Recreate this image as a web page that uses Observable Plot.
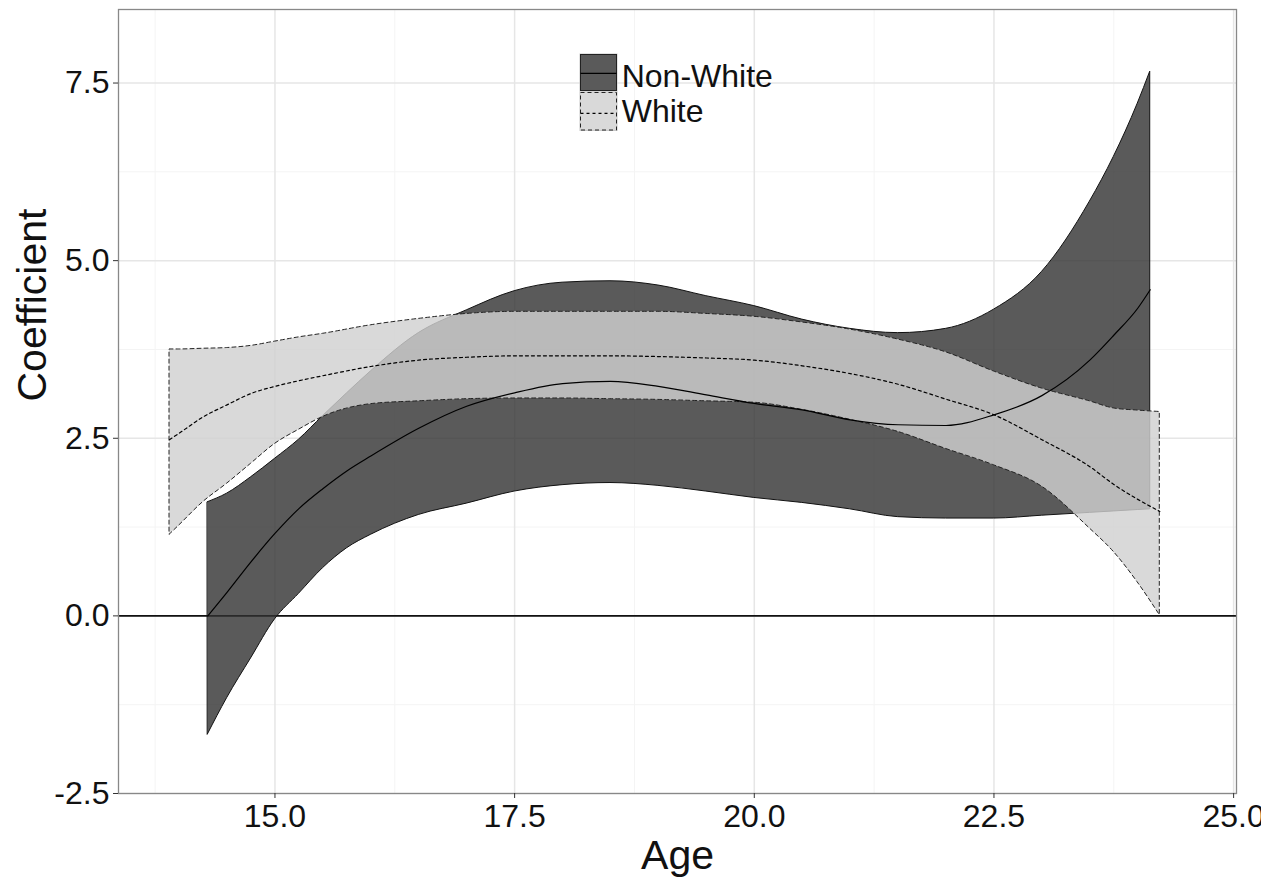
<!DOCTYPE html>
<html>
<head>
<meta charset="utf-8">
<script src="https://cdn.jsdelivr.net/npm/d3@7"></script>
<script src="https://cdn.jsdelivr.net/npm/@observablehq/plot@0.6"></script>
<style>
  html, body { margin: 0; padding: 0; background: #fff; }
  #wrap { position: relative; width: 1261px; height: 880px; overflow: hidden; font-family: "Liberation Sans", Arial, sans-serif; }
  #legend { position: absolute; left: 575px; top: 50px; }
</style>
</head>
<body>
<div id="wrap">
  <div id="chart"></div>
  <svg id="legend" width="220" height="86"></svg>
</div>
<script>
// ---- Data ----
const nwAge   = [14.30, 14.5, 14.75, 15.0, 15.25, 15.5, 15.75, 16.0, 16.5, 17.0, 17.5, 18.0, 18.5, 19.0, 19.5, 20.0, 20.5, 21.0, 21.5, 22.0, 22.5, 23.0, 23.5, 23.75, 24.0, 24.13];
const nwLower = [-1.67, -1.16, -0.60, -0.05, 0.31, 0.67, 0.95, 1.14, 1.42, 1.58, 1.75, 1.84, 1.87, 1.83, 1.75, 1.66, 1.59, 1.50, 1.39, 1.37, 1.37, 1.41, 1.45, 1.47, 1.49, 1.50];
const nwFit   = [0.00, 0.33, 0.76, 1.16, 1.51, 1.79, 2.04, 2.25, 2.64, 2.95, 3.14, 3.27, 3.30, 3.23, 3.11, 2.99, 2.90, 2.76, 2.69, 2.68, 2.83, 3.10, 3.60, 3.95, 4.33, 4.59];
const nwUpper = [1.60, 1.72, 1.95, 2.21, 2.48, 2.81, 3.13, 3.44, 3.98, 4.30, 4.57, 4.69, 4.71, 4.65, 4.50, 4.36, 4.17, 4.04, 3.98, 4.04, 4.31, 4.84, 5.83, 6.46, 7.21, 7.66];

const wAge    = [13.90, 14.0, 14.25, 14.5, 14.75, 15.0, 15.25, 15.5, 16.0, 16.5, 17.0, 17.5, 18.0, 18.5, 19.0, 19.5, 20.0, 20.5, 21.0, 21.5, 22.0, 22.5, 23.0, 23.5, 23.75, 24.0, 24.23];
const wLower  = [1.14, 1.27, 1.60, 1.86, 2.14, 2.42, 2.62, 2.80, 2.98, 3.02, 3.05, 3.06, 3.06, 3.05, 3.04, 3.02, 3.00, 2.90, 2.76, 2.59, 2.35, 2.12, 1.82, 1.23, 0.90, 0.47, 0.01];
const wFit    = [2.48, 2.57, 2.80, 2.97, 3.13, 3.23, 3.31, 3.38, 3.51, 3.60, 3.64, 3.66, 3.66, 3.66, 3.65, 3.63, 3.60, 3.52, 3.41, 3.26, 3.05, 2.83, 2.48, 2.10, 1.85, 1.64, 1.47];
const wUpper  = [3.75, 3.75, 3.76, 3.77, 3.80, 3.86, 3.92, 3.97, 4.09, 4.18, 4.25, 4.28, 4.28, 4.28, 4.28, 4.25, 4.21, 4.13, 4.03, 3.89, 3.71, 3.44, 3.20, 3.02, 2.92, 2.89, 2.87];

const xTicks  = [15, 17.5, 20, 22.5, 25];
const xMinor  = [13.75, 16.25, 18.75, 21.25, 23.75];
const yTicks  = [-2.5, 0, 2.5, 5, 7.5];
const yMinor  = [-1.25, 1.25, 3.75, 6.25];
const seriesNames = ["Non-White", "White"];
const xTitle = "Age";
const yTitle = "Coefficient";

const nw = nwAge.map((a, i) => ({age: a, lo: nwLower[i], fit: nwFit[i], hi: nwUpper[i]}));
const wh = wAge.map((a, i) => ({age: a, lo: wLower[i], fit: wFit[i], hi: wUpper[i]}));

const font = "Liberation Sans, Arial, sans-serif";

const chart = Plot.plot({
  width: 1261,
  height: 880,
  marginLeft: 118,
  marginRight: 25,
  marginTop: 9,
  marginBottom: 87,
  style: {fontFamily: font, background: "transparent", overflow: "visible"},
  x: {domain: [13.368, 25.03]},
  y: {domain: [-2.5, 8.535]},
  marks: [
    Plot.ruleX(xMinor, {stroke: "#f4f4f4", strokeWidth: 1}),
    Plot.ruleY(yMinor, {stroke: "#f4f4f4", strokeWidth: 1}),
    Plot.ruleX(xTicks, {stroke: "#e6e6e6", strokeWidth: 1.5}),
    Plot.ruleY(yTicks, {stroke: "#e6e6e6", strokeWidth: 1.5}),
    Plot.ruleY([0], {stroke: "#111", strokeWidth: 1.6}),
    Plot.areaY(nw, {x: "age", y1: "lo", y2: "hi", fill: "#313131", fillOpacity: 0.8, stroke: "#111", strokeWidth: 1, curve: "monotone-x"}),
    Plot.areaY(wh, {x: "age", y1: "lo", y2: "hi", fill: "#d0d0d0", fillOpacity: 0.81, stroke: "#222", strokeWidth: 1, strokeDasharray: "4,3", curve: "monotone-x"}),
    Plot.lineY(nw, {x: "age", y: "fit", stroke: "#000", strokeWidth: 1.2, curve: "monotone-x"}),
    Plot.lineY(wh, {x: "age", y: "fit", stroke: "#000", strokeWidth: 1.2, strokeDasharray: "3,3", curve: "monotone-x"}),
    Plot.frame({stroke: "#888", strokeWidth: 1.3}),
    Plot.axisX(xTicks, {tickFormat: d => d.toFixed(1), fontSize: 32, tickSize: 5, tickPadding: 6, stroke: "#333", fill: "#111", label: null}),
    Plot.axisY(yTicks, {tickFormat: d => d.toFixed(1), fontSize: 32, tickSize: 5, tickPadding: 4, stroke: "#333", fill: "#111", label: null}),
    Plot.text([xTitle], {frameAnchor: "bottom", lineAnchor: "top", dy: 46, fontSize: 41, fill: "#111"}),
    Plot.text([yTitle], {frameAnchor: "left", lineAnchor: "middle", rotate: -90, dx: -86, fontSize: 41, fill: "#111"})
  ]
});
document.getElementById("chart").appendChild(chart);

// ---- Legend (inside panel, top centre) ----
const lg = d3.select("#legend");
// Non-White key
lg.append("rect").attr("x", 4.5).attr("y", 3.5).attr("width", 38).attr("height", 38).attr("fill", "#c8c8c8");
lg.append("rect").attr("x", 5.5).attr("y", 4.5).attr("width", 36).attr("height", 36).attr("fill", "#5a5a5a").attr("stroke", "#222").attr("stroke-width", 1);
lg.append("line").attr("x1", 5.5).attr("x2", 41.5).attr("y1", 23.3).attr("y2", 23.3).attr("stroke", "#000").attr("stroke-width", 1.2);
// White key
lg.append("rect").attr("x", 4.5).attr("y", 41.5).attr("width", 38).attr("height", 39.5).attr("fill", "#c8c8c8");
lg.append("rect").attr("x", 5.5).attr("y", 42.5).attr("width", 36).attr("height", 37.5).attr("fill", "#d9d9d9").attr("stroke", "#222").attr("stroke-width", 1).attr("stroke-dasharray", "4,3");
lg.append("line").attr("x1", 5.5).attr("x2", 41.5).attr("y1", 63.3).attr("y2", 63.3).attr("stroke", "#000").attr("stroke-width", 1.2).attr("stroke-dasharray", "3,3");
lg.append("text").attr("x", 46.7).attr("y", 36.7).attr("font-size", 32).attr("font-family", font).attr("fill", "#111").text(seriesNames[0]);
lg.append("text").attr("x", 46.7).attr("y", 72.3).attr("font-size", 32).attr("font-family", font).attr("fill", "#111").text(seriesNames[1]);
</script>
</body>
</html>
